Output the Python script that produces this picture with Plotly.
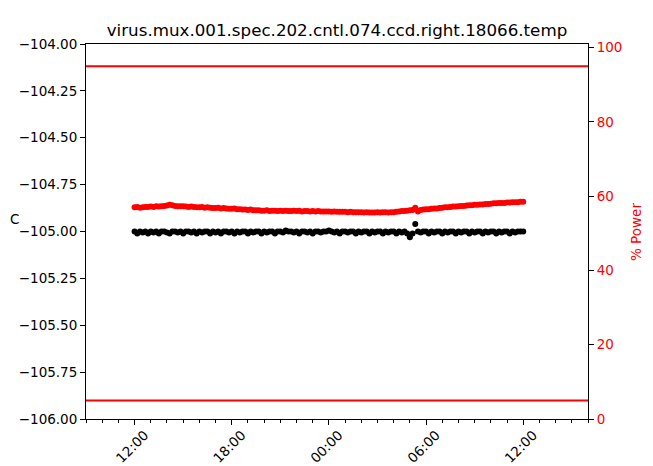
import pandas as pd
import plotly.graph_objects as go

title_text = "virus.mux.001.spec.202.cntl.074.ccd.right.18066.temp"

# 10-minute samples, 12:00 to 12:00 next day
times = pd.date_range("2018-03-07 12:00", "2018-03-08 12:00", freq="10min")

temp_c = [
    -105.00, -105.01, -105.00, -105.005, -105.00, -105.01,
    -105.00, -105.005, -105.00, -105.01, -105.00, -105.00,
    -105.005, -105.01, -105.00, -105.00, -105.005, -105.00,
    -105.01, -105.00, -105.00, -105.005, -105.00, -105.01,
    -105.00, -105.005, -105.00, -105.00, -105.01, -105.00,
    -105.005, -105.00, -105.01, -105.00, -105.00, -105.005,
    -105.00, -105.01, -105.00, -105.005, -105.00, -105.00,
    -105.01, -105.00, -105.005, -105.00, -105.00, -105.01,
    -105.00, -105.005, -105.00, -105.00, -105.01, -105.00,
    -105.00, -105.005, -104.995, -105.00, -105.00, -105.005,
    -105.00, -105.01, -105.00, -105.00, -105.005, -105.00,
    -105.01, -105.00, -105.00, -105.005, -105.00, -105.00,
    -104.995, -105.00, -105.005, -105.00, -105.01, -105.00,
    -105.00, -105.005, -105.00, -105.00, -105.01, -105.00,
    -105.005, -105.00, -105.00, -105.01, -105.00, -105.005,
    -105.00, -105.00, -105.01, -105.00, -105.005, -105.00,
    -105.00, -105.01, -105.00, -105.005, -105.00, -105.01,
    -105.03, -105.01, -104.96, -105.00, -105.005, -105.00,
    -105.00, -105.01, -105.00, -105.005, -105.00, -105.00,
    -105.01, -105.00, -105.005, -105.00, -105.00, -105.01,
    -105.00, -105.005, -105.00, -105.00, -105.01, -105.00,
    -105.005, -105.00, -105.00, -105.01, -105.00, -105.005,
    -105.00, -105.00, -105.01, -105.00, -105.005, -105.00,
    -105.00, -105.01, -105.00, -105.005, -105.00, -105.00,
    -105.00,
]

# green trace follows the temperatures, but not up to the single high reading
temp_line = [None if t > -104.99 else t for t in temp_c]

power_pct = [
    57.0, 57.1, 56.9, 57.0, 57.1, 57.1,
    57.2, 57.1, 57.3, 57.2, 57.3, 57.4,
    57.5, 57.7, 57.6, 57.4, 57.3, 57.3,
    57.3, 57.2, 57.1, 57.2, 57.1, 57.0,
    57.0, 57.1, 56.9, 57.0, 56.9, 56.8,
    56.8, 56.9, 56.7, 56.8, 56.7, 56.6,
    56.6, 56.7, 56.5, 56.5, 56.4, 56.4,
    56.3, 56.4, 56.2, 56.2, 56.2, 56.1,
    56.1, 56.2, 56.0, 56.1, 56.1, 56.0,
    56.1, 56.0, 56.1, 56.0, 56.0, 56.1,
    56.0, 56.1, 55.9, 56.0, 56.0, 55.9,
    56.0, 55.9, 56.0, 55.9, 55.9, 55.9,
    55.9, 55.8, 55.9, 55.8, 55.8, 55.8,
    55.8, 55.7, 55.8, 55.7, 55.7, 55.7,
    55.7, 55.6, 55.7, 55.6, 55.6, 55.6,
    55.7, 55.6, 55.7, 55.7, 55.6, 55.7,
    55.7, 55.8, 55.9, 56.0, 56.0, 56.1,
    56.2, 56.3, 56.9, 55.9, 56.3, 56.4,
    56.5, 56.5, 56.6, 56.7, 56.7, 56.8,
    56.9, 57.0, 57.0, 57.1, 57.2, 57.2,
    57.3, 57.4, 57.4, 57.5, 57.6, 57.6,
    57.7, 57.7, 57.8, 57.8, 57.9, 57.9,
    58.0, 58.1, 58.1, 58.2, 58.2, 58.2,
    58.3, 58.3, 58.4, 58.4, 58.4, 58.5,
    58.5,
]

power_limits = [95, 5]

y_ticks = [-106.0, -105.75, -105.5, -105.25, -105.0, -104.75, -104.5, -104.25, -104.0]
y_ticktext = ["\u2212%.2f" % abs(v) for v in y_ticks]
x_range = ["2018-03-07 09:00", "2018-03-08 16:00"]

font = "DejaVu Sans, Liberation Sans, sans-serif"

# the page places the figure 8px in from the top-left corner
OFF = 8
L, R, T, B = 86 - OFF, 588 - OFF, 44 - OFF, 419 - OFF
W, H = 653, 466
PW, PH = R - L, B - T


def px(x):
    return (x - OFF - L) / PW


def py(y):
    return (B - (y - OFF)) / PH


fig = go.Figure()
fig.add_trace(go.Scatter(x=times, y=temp_line, mode="lines",
                         line=dict(color="#008000", width=1.5), yaxis="y",
                         connectgaps=True, showlegend=False))
fig.add_trace(go.Scatter(x=times, y=temp_c, mode="markers",
                         marker=dict(color="black", size=6), yaxis="y",
                         showlegend=False))
fig.add_trace(go.Scatter(x=times, y=power_pct, mode="markers",
                         marker=dict(color="red", size=6), yaxis="y2",
                         showlegend=False))

for lim in power_limits:
    fig.add_shape(type="line", xref="paper", x0=0, x1=1, yref="y2", y0=lim, y1=lim,
                  line=dict(color="red", width=2))

fig.update_layout(
    width=W, height=H,
    margin=dict(l=L, r=W - R, t=T, b=H - B, autoexpand=False),
    plot_bgcolor="white", paper_bgcolor="white",
    font=dict(family=font, size=14, color="black"),
    title=dict(text=title_text, x=0.5, xref="paper", y=1 - (30 - OFF) / H, yref="container",
               xanchor="center", yanchor="middle", font=dict(size=16.7)),
    xaxis=dict(type="date", range=x_range, tick0="2018-03-07 00:00",
               dtick=6 * 3600 * 1000, tickformat="%H:%M", tickangle=-45,
               ticks="outside", ticklen=5, tickcolor="black", showline=True,
               linecolor="black", mirror=True, showgrid=False, zeroline=False,
               automargin=False, ticklabelshift=10, ticklabelstandoff=-3,
               tickfont=dict(size=13.5),
               minor=dict(dtick=3600 * 1000, ticks="outside", ticklen=3,
                          tickcolor="black", showgrid=False)),
    yaxis=dict(range=[-106, -104], tickvals=y_ticks, ticktext=y_ticktext,
               ticks="outside", ticklen=5, tickcolor="black", showline=True,
               linecolor="black", showgrid=False, zeroline=False, automargin=False,
               tickfont=dict(size=13.5)),
    yaxis2=dict(range=[0, 101], overlaying="y", side="right", dtick=20,
                ticks="outside", ticklen=5, tickcolor="black", showline=True,
                linecolor="black", showgrid=False, zeroline=False, automargin=False,
                tickfont=dict(color="red", size=13.5)),
    annotations=[
        dict(text="C", xref="paper", yref="paper", x=px(8), y=py(219),
             showarrow=False, xanchor="left", yanchor="middle",
             font=dict(size=13.5, color="black")),
        dict(text="% Power", xref="paper", yref="paper", x=px(636),
             y=py(232), textangle=-90, showarrow=False,
             xanchor="center", yanchor="middle", font=dict(size=13.5, color="red")),
    ],
)

fig.write_html("out.html")
